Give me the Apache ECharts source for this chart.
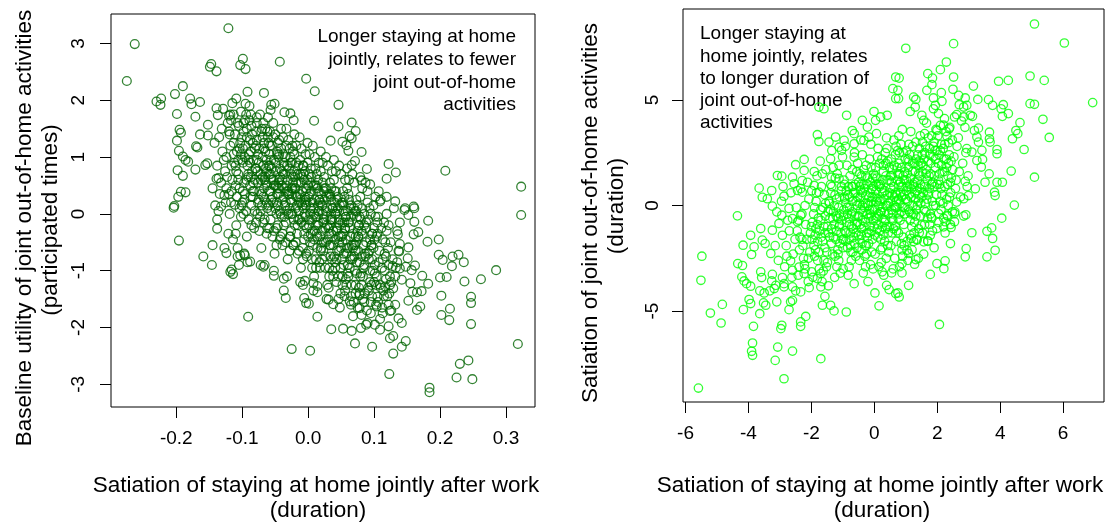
<!DOCTYPE html>
<html>
<head>
<meta charset="utf-8">
<script src="https://cdn.jsdelivr.net/npm/echarts@6/dist/echarts.min.js"></script>
<style>
  html, body { margin: 0; padding: 0; background: #fff; }
  #chart { width: 1113px; height: 525px; }
</style>
</head>
<body>
<div id="chart"></div>
<script>
// Left panel: satiation of staying home (duration) vs baseline utility of joint out-of-home activities
const homeVsFrequency = [
  // outer points
  [-0.121,3.27],[-0.263,2.99],[-0.275,2.34],[-0.147,2.64],[-0.149,2.59],[-0.139,2.51],[-0.099,2.73],[-0.103,2.62],[-0.095,2.55],[-0.043,2.68],[-0.003,2.38],[0.010,2.16],[-0.190,2.25],[-0.202,2.11],[-0.230,1.98],[-0.223,2.03],[-0.224,1.92],[-0.179,2.03],[-0.177,1.93],[-0.164,1.97],[-0.199,1.76],[-0.171,1.71],[-0.109,2.03],[-0.095,1.94],[-0.092,2.15],[-0.067,2.13],[-0.139,1.86],[-0.137,1.74],[-0.120,1.73],[-0.056,1.92],[-0.051,1.94],[-0.057,1.83],[-0.036,1.79],[-0.027,1.77],[-0.022,1.65],[0.009,1.64],[-0.195,1.48],[-0.193,1.43],[-0.199,1.29],[-0.196,1.11],[-0.190,1.01],[-0.182,0.92],[-0.186,0.95],[-0.198,0.77],[-0.190,0.67],[-0.193,0.39],[-0.186,0.38],[-0.197,0.30],[-0.203,0.14],[-0.170,1.19],[-0.168,1.17],[-0.171,0.78],[-0.164,1.40],[-0.152,1.38],[-0.152,1.57],[-0.153,0.89],[-0.156,0.86],[-0.139,0.62],[-0.136,0.63],[-0.127,0.33],[-0.132,0.13],[-0.111,0.16],
  [-0.204,0.11],[-0.196,-0.47],[-0.138,-0.26],[-0.145,-0.55],[-0.159,-0.75],[-0.146,-0.90],[-0.124,-0.69],[-0.118,-1.02],[-0.114,-1.06],[-0.116,-0.98],[-0.105,-0.90],[-0.107,-0.75],[-0.103,-0.73],[-0.096,-0.73],[-0.091,-1.81],[-0.025,-2.38],[0.003,-2.41],[-0.088,-0.84],[-0.068,-0.93],[-0.066,-0.90],[-0.052,-1.09],[-0.037,-1.14],[-0.037,-1.35],[-0.034,-1.48],[-0.005,-1.18],[-0.008,-1.25],[-0.006,-1.48],[-0.003,-1.57],[0.001,-1.58],[0.008,-1.22],[0.014,-1.27],[0.014,-1.38],[0.014,-1.81],
  [0.046,1.92],[0.046,1.54],[0.066,1.61],[0.072,1.46],[0.063,1.37],[0.066,1.33],[0.034,1.29],[0.052,1.27],[0.058,1.21],[0.061,1.11],[0.081,1.09],[0.071,0.93],[0.066,0.86],[0.089,0.79],[0.122,0.88],[0.133,0.73],[0.119,0.62],[0.094,0.52],[0.081,0.59],[0.208,0.76],[0.323,0.48],[0.160,0.13],[0.147,0.10],[0.132,0.22],[0.119,0.30],[0.109,0.22],
  [0.323,-0.02],[0.182,-0.12],[0.161,0.10],[0.146,0.07],[0.152,-0.02],[0.161,-0.14],[0.136,-0.36],[0.160,-0.36],[0.167,-0.32],[0.181,-0.49],[0.198,-0.45],[0.139,-0.53],[0.152,-0.59],[0.138,-0.66],[0.151,-0.78],[0.128,-0.92],[0.162,-0.91],[0.173,-1.09],[0.182,-1.23],[0.198,-0.72],[0.204,-0.81],[0.219,-0.75],[0.228,-0.72],[0.236,-0.85],[0.218,-0.92],[0.200,-1.12],[0.210,-1.11],[0.237,-1.19],[0.262,-1.15],[0.285,-0.99],[0.202,-1.44],[0.247,-1.46],[0.247,-1.57],[0.215,-1.67],[0.202,-1.78],[0.214,-1.87],[0.247,-1.94],[0.318,-2.29],[0.129,-2.46],[0.142,-2.34],[0.148,-2.24],[0.124,-2.19],[0.129,-2.15],[0.097,-2.34],[0.071,-2.28],[0.123,-2.82],[0.184,-3.06],[0.184,-3.14],[0.225,-2.88],[0.230,-2.64],[0.243,-2.58],[0.249,-2.91],[0.137,-1.84],[0.142,-1.92],[0.122,-1.98],[0.109,-2.04],[0.101,-1.95],[0.090,-1.92],[0.080,-2.01],[0.066,-2.06],[0.053,-2.02],[0.035,-2.03],[0.081,-1.78],[0.078,-1.66],[0.104,-1.63],[0.122,-1.60],[0.132,-1.60],[0.124,-1.71],[0.152,-1.53],[0.165,-1.69],[0.170,-1.63],[0.172,-1.36],[0.158,-1.37],[0.165,-1.38],[0.038,-1.59],[0.031,-1.51],[0.046,-1.50],[0.063,-1.54],[0.078,-1.43],[0.105,-1.46],[0.117,-1.28],[0.129,-1.31],[0.142,-1.16],[0.155,-1.22],[0.139,-0.96],[0.148,-0.93],[0.157,-0.99],[0.124,-1.10],[0.109,-1.25],[0.096,-1.25],
  // central cloud
  [-0.135,1.35],[-0.128,0.95],[-0.132,0.55],[-0.125,0.2],[-0.138,-0.1],[-0.122,1.6],[-0.13,1.1],[-0.126,0.75],[-0.134,0.35],[-0.121,-0.35],[-0.129,1.85],[-0.136,0.05],[-0.124,0.45],[-0.131,1.5],[-0.127,-0.6],
  [-0.118,1.2],[-0.112,0.9],[-0.105,1.55],[-0.115,0.6],[-0.108,0.3],[-0.119,0.0],[-0.102,1.8],[-0.111,1.4],[-0.116,0.85],[-0.104,0.45],[-0.109,-0.2],[-0.113,1.05],[-0.101,0.15],[-0.117,1.65],[-0.106,0.7],[-0.114,-0.45],[-0.103,1.25],[-0.11,0.5],[-0.107,-0.6],[-0.12,0.35],[-0.1,0.95],[-0.115,1.95],[-0.108,1.1],[-0.102,-0.05],
  [-0.098,1.6],[-0.095,1.2],[-0.092,0.85],[-0.088,0.5],[-0.085,1.4],[-0.097,0.25],[-0.09,-0.1],[-0.083,0.95],[-0.094,1.75],[-0.087,0.65],[-0.099,0.4],[-0.081,1.15],[-0.093,-0.4],[-0.086,0.15],[-0.096,1.0],[-0.089,1.9],[-0.084,0.3],[-0.091,0.7],[-0.082,-0.25],[-0.097,-0.7],[-0.088,1.3],[-0.094,0.05],[-0.08,0.8],[-0.086,1.55],[-0.092,-0.85],[-0.099,0.9],[-0.083,0.55],[-0.09,1.05],
  [-0.078,1.3],[-0.075,0.9],[-0.072,0.6],[-0.068,0.3],[-0.065,1.1],[-0.077,0.0],[-0.07,1.5],[-0.063,0.75],[-0.074,-0.3],[-0.067,0.45],[-0.079,0.8],[-0.061,1.35],[-0.073,1.75],[-0.066,-0.1],[-0.076,0.2],[-0.069,1.0],[-0.062,0.1],[-0.071,-0.6],[-0.064,0.55],[-0.078,1.6],[-0.06,0.85],[-0.074,0.4],[-0.067,1.25],[-0.072,-0.9],[-0.063,-0.35],[-0.079,-0.15],[-0.065,0.65],[-0.07,0.15],[-0.061,1.7],[-0.076,1.05],
  [-0.058,1.2],[-0.055,0.8],[-0.052,0.5],[-0.048,0.2],[-0.045,1.0],[-0.057,-0.1],[-0.05,1.4],[-0.043,0.65],[-0.054,-0.4],[-0.047,0.35],[-0.059,0.7],[-0.041,1.15],[-0.053,1.6],[-0.046,-0.2],[-0.056,0.05],[-0.049,0.9],[-0.042,0.0],[-0.051,-0.7],[-0.044,0.45],[-0.058,1.45],[-0.04,0.75],[-0.054,0.3],[-0.047,1.1],[-0.052,-1.0],[-0.043,-0.45],[-0.059,-0.25],[-0.045,0.55],[-0.05,0.1],[-0.041,1.5],[-0.056,0.95],[-0.048,-0.55],[-0.053,0.6],[-0.044,1.3],[-0.057,0.4],
  [-0.038,1.05],[-0.035,0.7],[-0.032,0.4],[-0.028,0.1],[-0.025,0.9],[-0.037,-0.2],[-0.03,1.3],[-0.023,0.55],[-0.034,-0.5],[-0.027,0.25],[-0.039,0.6],[-0.021,1.05],[-0.033,1.5],[-0.026,-0.3],[-0.036,-0.05],[-0.029,0.8],[-0.022,-0.1],[-0.031,-0.8],[-0.024,0.35],[-0.038,1.35],[-0.02,0.65],[-0.034,0.2],[-0.027,1.0],[-0.032,-1.1],[-0.023,-0.55],[-0.039,-0.35],[-0.025,0.45],[-0.03,0.0],[-0.021,1.4],[-0.036,0.85],[-0.028,-0.65],[-0.033,0.5],[-0.024,1.2],[-0.037,0.3],[-0.026,0.7],
  [-0.018,0.9],[-0.015,0.55],[-0.012,0.25],[-0.008,-0.05],[-0.005,0.75],[-0.017,-0.35],[-0.01,1.15],[-0.003,0.4],[-0.014,-0.65],[-0.007,0.1],[-0.019,0.45],[-0.001,0.9],[-0.013,1.35],[-0.006,-0.45],[-0.016,-0.2],[-0.009,0.65],[-0.002,-0.25],[-0.011,-0.95],[-0.004,0.2],[-0.018,1.2],[0.0,0.5],[-0.014,0.05],[-0.007,0.85],[-0.012,-1.2],[-0.003,-0.7],[-0.019,-0.5],[-0.005,0.3],[-0.01,-0.15],[-0.001,1.25],[-0.016,0.7],[-0.008,-0.8],[-0.013,0.35],[-0.004,1.05],[-0.017,0.15],[-0.006,0.6],
  [0.002,0.7],[0.005,0.4],[0.008,0.1],[0.012,-0.2],[0.015,0.6],[0.003,-0.5],[0.01,1.0],[0.017,0.25],[0.006,-0.8],[0.013,-0.05],[0.001,0.3],[0.019,0.75],[0.007,1.2],[0.014,-0.6],[0.004,-0.35],[0.011,0.5],[0.018,-0.4],[0.009,-1.1],[0.016,0.05],[0.002,1.05],[0.02,0.35],[0.006,-0.1],[0.013,0.7],[0.008,-1.35],[0.017,-0.85],[0.001,-0.65],[0.015,0.15],[0.01,-0.3],[0.019,1.1],[0.004,0.55],[0.012,-0.95],[0.007,0.2],[0.016,0.9],[0.003,0.0],[0.014,0.45],
  [0.022,0.55],[0.025,0.25],[0.028,-0.05],[0.032,-0.35],[0.035,0.45],[0.023,-0.65],[0.03,0.85],[0.037,0.1],[0.026,-0.95],[0.033,-0.2],[0.021,0.15],[0.039,0.6],[0.027,1.0],[0.034,-0.75],[0.024,-0.5],[0.031,0.35],[0.038,-0.55],[0.029,-1.25],[0.036,-0.1],[0.022,0.9],[0.04,0.2],[0.026,-0.25],[0.033,0.55],[0.028,-1.5],[0.037,-1.0],[0.021,-0.8],[0.035,0.0],[0.03,-0.45],[0.039,0.95],[0.024,0.4],[0.032,-1.1],[0.027,0.05],[0.036,0.75],[0.023,-0.15],[0.034,0.3],
  [0.042,0.4],[0.045,0.1],[0.048,-0.2],[0.052,-0.5],[0.055,0.3],[0.043,-0.8],[0.05,0.7],[0.057,-0.05],[0.046,-1.1],[0.053,-0.35],[0.041,0.0],[0.059,0.45],[0.047,0.85],[0.054,-0.9],[0.044,-0.65],[0.051,0.2],[0.058,-0.7],[0.049,-1.4],[0.056,-0.25],[0.042,0.75],[0.06,0.05],[0.046,-0.4],[0.053,0.4],[0.048,-1.65],[0.057,-1.15],[0.041,-0.95],[0.055,-0.15],[0.05,-0.6],[0.059,0.8],[0.044,0.25],[0.052,-1.25],[0.047,-0.1],[0.056,0.6],[0.043,-0.3],[0.054,0.15],
  [0.062,0.25],[0.065,-0.05],[0.068,-0.35],[0.072,-0.65],[0.075,0.15],[0.063,-0.95],[0.07,0.55],[0.077,-0.2],[0.066,-1.25],[0.073,-0.5],[0.061,-0.15],[0.079,0.3],[0.067,0.7],[0.074,-1.05],[0.064,-0.8],[0.071,0.05],[0.078,-0.85],[0.069,-1.55],[0.076,-0.4],[0.062,0.6],[0.08,-0.1],[0.066,-0.55],[0.073,0.25],[0.068,-1.8],[0.077,-1.3],[0.061,-1.1],[0.075,-0.3],[0.07,-0.75],[0.079,0.65],[0.064,0.1],[0.072,-1.4],
  [0.082,0.1],[0.085,-0.2],[0.088,-0.5],[0.092,-0.8],[0.095,0.0],[0.083,-1.1],[0.09,0.4],[0.097,-0.35],[0.086,-1.4],[0.093,-0.65],[0.081,-0.3],[0.099,0.15],[0.087,0.55],[0.094,-1.2],[0.084,-0.95],[0.091,-0.1],[0.098,-1.0],[0.089,-1.7],[0.096,-0.55],[0.082,0.45],[0.1,-0.25],[0.086,-0.7],[0.093,0.1],[0.088,-1.95],[0.097,-1.45],[0.081,-1.25],
  [0.102,-0.05],[0.105,-0.35],[0.108,-0.65],[0.112,-0.95],[0.115,-0.15],[0.103,-1.25],[0.11,0.25],[0.117,-0.5],[0.106,-1.55],[0.113,-0.8],[0.101,-0.45],[0.119,0.0],[0.107,0.4],[0.114,-1.35],[0.104,-1.1],[0.111,-0.25],[0.118,-1.15],[0.109,-1.85],[0.116,-0.7],[0.102,0.3],
  [0.122,-0.2],[0.125,-0.5],[0.128,-0.8],[0.132,-1.1],[0.135,-0.3],[0.123,-1.4],[0.13,0.1],[0.137,-0.65],[0.126,-1.7],[0.133,-0.95],[0.121,-0.6],[0.139,-0.15],
  // densest band along the trend
  [-0.109,0.75],[-0.104,1.15],[-0.097,0.55],[-0.093,1.35],[-0.1,0.2],[-0.106,0.95],[-0.091,0.65],[-0.098,1.45],
  [-0.088,0.9],[-0.084,0.4],[-0.079,1.2],[-0.075,0.25],[-0.072,0.7],[-0.087,1.1],[-0.081,0.05],[-0.076,0.55],[-0.071,1.45],[-0.085,0.75],[-0.078,0.95],[-0.073,-0.05],
  [-0.069,0.65],[-0.066,0.25],[-0.063,0.95],[-0.059,0.4],[-0.055,1.2],[-0.068,-0.15],[-0.064,0.8],[-0.06,0.15],[-0.056,0.6],[-0.052,0.95],[-0.067,1.15],[-0.062,-0.25],[-0.058,0.85],[-0.053,0.2],[-0.051,0.5],
  [-0.049,0.5],[-0.046,0.15],[-0.043,0.8],[-0.039,0.25],[-0.035,1.0],[-0.048,-0.25],[-0.044,0.6],[-0.04,-0.05],[-0.036,0.45],[-0.032,0.85],[-0.047,1.05],[-0.042,-0.4],[-0.038,0.7],[-0.033,0.05],[-0.031,0.35],[-0.045,0.35],
  [-0.029,0.35],[-0.026,0.0],[-0.023,0.65],[-0.019,0.1],[-0.015,0.85],[-0.028,-0.4],[-0.024,0.45],[-0.02,-0.2],[-0.016,0.3],[-0.012,0.7],[-0.027,0.9],[-0.022,-0.55],[-0.018,0.55],[-0.013,-0.1],[-0.011,0.2],[-0.025,0.2],
  [-0.009,0.15],[-0.006,-0.2],[-0.003,0.45],[0.001,-0.1],[0.005,0.65],[-0.008,-0.6],[-0.004,0.25],[0.0,-0.4],[0.004,0.1],[0.008,0.5],[-0.007,0.7],[-0.002,-0.75],[0.002,0.35],[0.007,-0.3],[0.009,0.0],[-0.005,0.0],
  [0.011,-0.05],[0.014,-0.4],[0.017,0.25],[0.021,-0.3],[0.025,0.45],[0.012,-0.8],[0.016,0.05],[0.02,-0.6],[0.024,-0.1],[0.028,0.3],[0.013,0.5],[0.018,-0.95],[0.022,0.15],[0.027,-0.5],[0.029,-0.2],[0.015,-0.2],
  [0.031,-0.25],[0.034,-0.55],[0.037,0.1],[0.041,-0.45],[0.045,0.3],[0.032,-0.95],[0.036,-0.1],[0.04,-0.75],[0.044,-0.25],[0.048,0.15],[0.033,0.35],[0.038,-1.1],[0.042,0.0],[0.047,-0.65],[0.049,-0.4],[0.035,-0.35],
  [0.051,-0.4],[0.054,-0.7],[0.057,-0.05],[0.061,-0.6],[0.065,0.15],[0.052,-1.1],[0.056,-0.25],[0.06,-0.9],[0.064,-0.4],[0.068,0.0],[0.053,0.2],[0.058,-1.25],[0.062,-0.15],[0.067,-0.8],[0.069,-0.55],
  [0.071,-0.55],[0.074,-0.85],[0.077,-0.2],[0.081,-0.75],[0.085,0.0],[0.072,-1.25],[0.076,-0.4],[0.08,-1.05],[0.084,-0.55],[0.088,-0.15],[0.073,0.05],[0.078,-1.4],
  [0.091,-0.7],[0.094,-1.0],[0.097,-0.35],[0.101,-0.9],[0.105,-0.15],[0.092,-1.35],[0.096,-0.55],[0.1,-1.2],
  [-0.142,1.25],[-0.138,0.85],[-0.12,1.45],[-0.113,1.75],[-0.096,1.65],[-0.087,1.75],[-0.079,1.45],[-0.068,1.6],[-0.062,1.45],[-0.145,0.45],[-0.141,0.15],[-0.117,0.2],[-0.11,-0.35],
  [0.055,-1.45],[0.065,-1.6],[0.075,-1.65],[0.085,-1.55],[0.095,-1.75],[0.103,-1.6],[0.113,-1.75],[0.12,-1.45],[0.126,-1.2],[0.135,-0.85],[0.115,-1.45],
  [-0.124,1.0],[-0.119,1.4],[-0.116,0.4],[-0.113,1.25],[-0.11,0.85],[-0.107,1.6],[-0.104,0.1],[-0.101,1.35],[-0.123,0.65],[-0.118,1.75],[-0.106,0.6],[-0.102,1.05],
  [-0.099,1.15],[-0.096,0.35],[-0.093,1.5],[-0.09,0.95],[-0.087,0.3],[-0.084,1.25],[-0.081,0.6],[-0.078,1.7],[-0.094,0.6],[-0.089,1.65],[-0.082,0.4],[-0.077,0.75],[-0.098,0.0],[-0.086,-0.2],
  [-0.074,1.15],[-0.071,0.35],[-0.068,0.85],[-0.065,1.5],[-0.062,0.5],[-0.059,1.05],[-0.056,0.25],[-0.053,1.35],[-0.072,0.05],[-0.069,1.35],[-0.063,0.2],[-0.057,0.7],[-0.052,-0.3],[-0.066,0.6],[-0.06,1.25],
  [-0.049,0.75],[-0.046,1.25],[-0.043,0.05],[-0.04,0.5],[-0.037,0.9],[-0.034,-0.15],[-0.031,0.6],[-0.028,1.15],[-0.048,0.0],[-0.044,1.05],[-0.039,-0.55],[-0.035,0.15],[-0.03,0.4],[-0.027,-0.4],[-0.046,0.45],[-0.033,1.2],
  [-0.024,0.0],[-0.021,0.75],[-0.018,0.3],[-0.015,-0.1],[-0.012,0.95],[-0.009,0.4],[-0.006,-0.35],[-0.003,0.15],[-0.023,1.1],[-0.02,0.45],[-0.016,-0.7],[-0.011,0.55],[-0.008,0.85],[-0.004,-0.05],[-0.001,0.6],[-0.014,0.2],
  [0.001,-0.2],[0.004,0.8],[0.007,-0.55],[0.01,0.25],[0.013,-0.35],[0.016,0.4],[0.019,-0.65],[0.022,0.0],[0.003,0.2],[0.006,-0.95],[0.011,0.8],[0.015,-0.15],[0.018,0.2],[0.021,-0.5],[0.024,0.65],[0.009,-0.45],
  [0.026,-0.75],[0.029,0.1],[0.032,-0.55],[0.035,0.25],[0.038,-0.3],[0.041,-0.85],[0.044,0.05],[0.047,-0.5],[0.027,0.45],[0.031,-1.3],[0.036,-0.8],[0.04,0.4],[0.043,-1.2],[0.046,-0.15],[0.049,-0.95],[0.034,-0.1],
  [0.051,-0.8],[0.054,0.05],[0.057,-0.45],[0.06,-1.05],[0.063,-0.25],[0.066,-0.75],[0.069,0.1],[0.072,-0.4],[0.052,-0.15],[0.056,-1.35],[0.061,0.35],[0.065,-1.45],[0.068,-0.6],[0.071,-1.0],[0.074,-0.05],[0.059,-0.6],
  [0.076,-0.65],[0.079,-1.1],[0.082,-0.35],[0.085,-0.9],[0.088,-0.25],[0.091,-1.3],[0.094,-0.45],[0.097,-0.8],[0.078,-0.05],[0.083,-1.5],[0.087,-0.75],[0.09,0.2],[0.095,-1.55],[0.099,-0.6],
  [0.101,-1.05],[0.104,-0.4],[0.107,-0.85],[0.11,-1.3],[0.113,-0.45],[0.116,-1.0],[0.119,-0.3],[0.122,-0.9],[0.106,-0.05],[0.112,-1.65],[0.118,-0.75],[0.124,-1.25]
];

// Right panel: satiation of staying home (duration) vs satiation of joint out-of-home activities (duration)
const homeVsDuration = [
  // outer points
  [5.09,8.59],[6.04,7.69],[1.00,7.44],[2.52,7.66],[6.94,4.87],[2.29,6.79],[2.10,6.43],[1.70,6.24],[1.85,6.03],[1.83,5.72],[1.67,5.45],[0.79,6.03],[0.75,5.45],[0.77,5.06],[2.52,6.08],[2.50,5.50],[2.13,5.34],[2.15,4.93],[1.88,5.09],[1.94,4.74],[3.15,5.65],[2.68,5.21],[2.89,5.09],[3.29,5.02],[2.70,4.77],[2.84,4.66],[2.94,4.74],[3.05,4.27],[3.12,4.22],[3.95,5.88],[4.26,5.92],[4.95,6.13],[5.40,5.92],[3.63,5.01],[3.76,4.74],[4.10,4.77],[4.03,4.58],[4.26,4.35],[4.07,4.22],[4.95,4.82],[5.09,4.79],[5.36,4.08],[5.56,3.22],[4.63,3.92],[4.50,3.55],[4.56,3.40],[4.39,3.16],[4.76,2.65],[4.35,1.63],[5.09,1.34],[4.45,0.02],[1.25,5.13],[1.32,5.02],[1.14,4.45],[1.30,4.66],[1.51,4.27],[1.57,4.03],[1.88,4.58],[2.04,4.35],[2.23,4.11],[2.55,4.19],[2.62,4.30],[2.84,4.19],[2.10,3.79],[2.31,3.28],[2.36,2.97],[1.99,3.55],[2.38,3.63],[3.18,3.55],[3.31,3.66],[3.26,3.24],[3.66,3.47],[3.66,3.16],[3.68,3.00],[3.90,2.65],[3.90,2.45],[3.31,3.00],[2.94,2.69],[3.10,2.53],[3.42,2.61],[3.44,2.18],[3.26,2.13],[3.40,1.82],[3.65,1.50],[3.52,1.10],[3.82,0.63],[3.84,0.47],[3.21,0.79],[2.89,1.14],[3.90,1.10],[4.07,1.10],[2.99,0.47],[2.84,0.32],[2.62,0.16],
  [4.05,-0.60],[3.73,-1.06],[3.58,-1.22],[3.76,-1.56],[3.10,-1.29],[2.91,-0.44],[2.42,-1.80],[2.92,-2.04],[2.89,-2.43],[3.58,-2.43],[3.84,-2.12],[2.07,-5.63],[1.99,-2.75],[2.25,-2.62],[2.21,-2.99],[1.78,-3.26],[1.09,-3.78],[0.79,-4.33],[0.75,-4.14],[0.88,-3.19],[1.28,-2.78],[1.32,-2.56],[1.09,-2.27],[0.88,-2.75],[0.86,-1.80],[1.04,-2.12],[2.04,-0.38],[2.31,-0.46],[2.55,-0.38],[2.44,-1.04],[2.20,-1.01],[1.99,-1.09],[1.78,-1.41],[1.70,-1.67],[1.57,-1.72],[1.36,-1.64],[1.17,-1.56],[1.43,-1.29],[1.49,-0.93],[1.81,-0.54],[2.25,-0.77],[2.55,-0.77],
  [-5.59,-8.64],[-5.48,-2.40],[-5.51,-3.54],[-5.21,-5.09],[-4.83,-4.68],[-4.87,-5.56],[-4.35,-0.49],[-4.17,-1.88],[-3.90,-2.32],[-4.34,-2.75],[-4.19,-2.84],[-4.21,-3.38],[-4.14,-3.57],[-4.06,-3.70],[-3.93,-3.82],[-3.98,-4.45],[-3.93,-4.64],[-4.16,-4.93],[-3.64,-5.12],[-3.84,-5.72],[-3.87,-6.51],[-3.90,-6.90],[-3.87,-7.09],[-3.15,-7.33],[-2.87,-8.20],[-3.07,-6.70],[-2.60,-6.89],[-1.70,-7.25],[-2.94,-5.67],[-2.97,-5.83],[-2.34,-5.51],[-2.34,-5.72],[-2.18,-5.25],[-3.52,-4.61],[-3.45,-4.72],[-3.10,-4.56],[-2.71,-4.93],[-2.66,-4.56],[-2.60,-4.49],[-1.65,-4.72],[-1.39,-4.72],[-1.28,-4.99],[-0.89,-5.04],[-1.57,-4.30],[-1.70,-3.85],[0.15,-4.75],[0.02,-4.14],[0.39,-3.78],[0.47,-3.98],[0.25,-3.14],[0.55,-3.19],[0.68,-4.17],[-3.50,-4.14],[-3.64,-4.04],[-3.18,-3.93],[-3.32,-4.04],[-2.87,-3.85],[-2.60,-3.85],[-2.50,-4.04],[-2.34,-4.09],[-2.07,-3.89],[-3.24,-1.17],[-3.03,-0.85],[-2.92,-1.41],[-3.61,-1.09],[-3.93,-1.41],[-3.56,-1.64],[-3.47,-1.80],[-3.29,-2.27],[-3.82,-1.96],[-3.61,-3.14],[-3.58,-3.41],[-3.26,-3.57],[-3.13,-3.78],[-3.24,-3.26],[-2.92,-3.41],[-2.87,-3.70],[-2.60,-3.07],[-2.66,-2.62],[-2.39,-2.91],[-2.23,-3.22],[-1.99,-3.14],[-1.81,-3.46],[-1.70,-3.22],[-3.24,-0.03],[-2.94,-0.46],[-2.71,-0.14],[-2.60,-0.62],[-2.44,-0.77],[-2.34,-0.46],
  [0.68,6.08],[0.59,5.53],[0.68,5.06],[-1.76,4.66],[-1.60,4.58],[-0.88,4.27],[-0.01,4.45],[-0.38,4.03],[-0.70,3.55],[-0.64,3.40],[-0.22,3.71],[0.04,4.03],[0.20,4.19],[0.41,4.27],[-1.81,3.35],[-1.76,3.03],[-1.44,3.00],[-1.23,3.24],[-1.12,2.76],[-0.96,3.08],[-1.04,2.61],[-1.39,2.21],[-1.12,1.90],[-0.64,2.92],[-0.64,2.29],[-0.33,3.08],[-0.17,3.24],[-2.23,2.18],[-2.50,1.93],[-2.23,1.66],[-1.91,1.61],[-3.08,1.42],[-2.94,1.39],[-3.66,0.82],[-3.26,0.71],[-3.56,0.39],[-3.40,0.32],[-2.87,0.44],[-2.55,1.03],[-2.60,1.34],[-2.29,1.18],[-1.65,1.50],[-1.36,1.34],[-1.12,1.27],[-1.91,0.95],[-1.76,0.63],[-2.29,0.63],[-2.44,0.71],
  [-3.1,-0.3],[-2.95,0.2],[-2.8,-1.9],[-2.7,-1.2],[-2.65,0.6],[-2.58,-2.3],[-3.05,-2.6],[-2.85,-2.9],[-2.75,-0.7],[-2.52,-1.6],[-3.15,-1.9],[-2.9,0.9],[-2.62,-3.4],[-2.78,-2.4],
  // central cloud
  [-2.45,-1.2],[-2.38,-2.1],[-2.3,-0.4],[-2.22,-2.8],[-2.15,-1.6],[-2.08,0.3],[-2.42,-3.3],[-2.34,0.8],[-2.27,-1.9],[-2.18,-0.9],[-2.1,-3.6],[-2.03,-1.3],[-2.48,-0.1],[-2.25,-2.5],[-2.12,1.1],[-2.36,-1.5],[-2.05,-2.2],[-2.2,-3.0],
  [-1.97,-0.8],[-1.92,-1.9],[-1.85,0.2],[-1.8,-2.6],[-1.74,-1.2],[-1.68,0.9],[-1.62,-3.1],[-1.56,-0.5],[-1.95,-3.4],[-1.88,-1.4],[-1.82,1.4],[-1.76,-2.2],[-1.7,-0.2],[-1.64,-1.7],[-1.58,0.5],[-1.52,-2.9],[-1.99,0.7],[-1.9,-2.4],[-1.78,-0.6],[-1.66,-3.6],[-1.6,-1.0],[-1.54,1.7],[-1.86,-1.1],[-1.72,2.1],[-1.57,-2.0],
  [-1.47,-0.3],[-1.42,-1.5],[-1.38,0.6],[-1.33,-2.3],[-1.28,-0.9],[-1.24,1.3],[-1.19,-2.9],[-1.14,-0.1],[-1.09,-1.8],[-1.04,0.9],[-1.49,-2.7],[-1.44,0.2],[-1.36,-1.1],[-1.31,1.8],[-1.26,-3.4],[-1.21,-0.5],[-1.16,-2.1],[-1.11,0.4],[-1.06,-1.3],[-1.01,2.3],[-1.46,-3.8],[-1.39,1.0],[-1.3,-0.3],[-1.22,-1.6],[-1.13,-2.6],[-1.03,-0.7],[-1.41,-0.6],[-1.27,0.0],[-1.18,1.5],[-1.08,-3.2],[-1.35,2.6],[-1.12,-1.0],
  [-0.97,-0.2],[-0.93,-1.2],[-0.89,0.7],[-0.85,-2.0],[-0.81,-0.6],[-0.77,1.4],[-0.73,-2.6],[-0.69,0.2],[-0.65,-1.5],[-0.61,1.0],[-0.57,-0.9],[-0.53,2.0],[-0.99,-3.0],[-0.95,0.4],[-0.91,-1.7],[-0.87,1.9],[-0.83,-3.3],[-0.79,-0.1],[-0.75,-1.9],[-0.71,0.9],[-0.67,-1.1],[-0.63,2.5],[-0.59,-2.4],[-0.55,0.0],[-0.51,-1.4],[-0.96,1.2],[-0.88,-0.8],[-0.8,-2.9],[-0.72,-0.4],[-0.64,-3.7],[-0.56,1.6],[-0.52,-0.5],[-0.92,2.8],[-0.84,0.5],[-0.76,-1.3],[-0.68,-2.2],[-0.6,0.6],[-0.98,-1.6],
  [-0.48,0.1],[-0.45,-0.9],[-0.42,1.0],[-0.39,-1.8],[-0.36,-0.3],[-0.33,1.7],[-0.3,-2.4],[-0.27,0.5],[-0.24,-1.3],[-0.21,1.3],[-0.18,-0.6],[-0.15,2.2],[-0.12,-2.8],[-0.09,0.2],[-0.06,-1.6],[-0.03,0.9],[-0.47,-2.6],[-0.44,0.7],[-0.41,-1.4],[-0.38,2.4],[-0.35,-3.2],[-0.32,-0.1],[-0.29,-1.9],[-0.26,1.9],[-0.23,-0.4],[-0.2,-3.6],[-0.17,0.4],[-0.14,-1.0],[-0.11,2.9],[-0.08,-2.2],[-0.05,-0.2],[-0.02,1.5],[-0.46,1.5],[-0.37,-0.7],[-0.28,-2.9],[-0.19,0.0],[-0.1,-1.2],[-0.04,-3.0],[-0.43,3.1],[-0.31,0.8],[-0.22,-1.5],[-0.13,1.1],
  [0.02,0.4],[0.05,-0.6],[0.08,1.3],[0.11,-1.5],[0.14,0.0],[0.17,2.0],[0.2,-2.1],[0.23,0.8],[0.26,-1.0],[0.29,1.6],[0.32,-0.3],[0.35,2.5],[0.38,-2.5],[0.41,0.5],[0.44,-1.3],[0.47,1.2],[0.03,-2.3],[0.06,1.0],[0.09,-1.1],[0.12,2.7],[0.15,-2.9],[0.18,0.2],[0.21,-1.6],[0.24,2.2],[0.27,-0.1],[0.3,-3.3],[0.33,0.7],[0.36,-0.7],[0.39,3.2],[0.42,-1.9],[0.45,0.1],[0.48,1.8],[0.04,1.8],[0.13,-0.4],[0.22,-2.7],[0.31,0.3],[0.4,-1.0],[0.46,-2.2],[0.07,3.4],[0.19,1.0],[0.28,-1.4],[0.37,1.4],
  [0.52,0.8],[0.55,-0.2],[0.58,1.7],[0.61,-1.1],[0.64,0.4],[0.67,2.4],[0.7,-1.7],[0.73,1.2],[0.76,-0.6],[0.79,2.0],[0.82,0.1],[0.85,2.9],[0.88,-2.1],[0.91,0.9],[0.94,-0.9],[0.97,1.6],[0.53,-1.9],[0.56,1.4],[0.59,-0.7],[0.62,3.1],[0.65,-2.5],[0.68,0.6],[0.71,-1.2],[0.74,2.6],[0.77,0.3],[0.8,-2.9],[0.83,1.1],[0.86,-0.3],[0.89,3.6],[0.92,-1.5],[0.95,0.5],[0.98,2.2],[0.54,2.2],[0.63,0.0],[0.72,-0.1],[0.81,1.5],[0.9,-2.4],[0.96,-0.4],[0.6,-3.0],[0.78,3.3],
  [1.02,1.2],[1.06,0.2],[1.1,2.1],[1.14,-0.7],[1.18,0.8],[1.22,2.8],[1.26,-1.3],[1.3,1.6],[1.34,-0.2],[1.38,2.4],[1.42,0.5],[1.46,3.3],[1.04,-1.7],[1.08,1.8],[1.12,-0.3],[1.16,3.5],[1.2,-2.1],[1.24,1.0],[1.28,-0.8],[1.32,3.0],[1.36,0.7],[1.4,-2.5],[1.44,1.4],[1.48,0.1],[1.03,2.6],[1.11,0.5],[1.19,-1.0],[1.27,2.0],[1.35,-1.6],[1.43,2.7],[1.07,-2.6],[1.15,1.3],[1.23,0.0],[1.31,0.3],[1.39,1.9],[1.47,-0.5],
  [1.52,1.6],[1.56,0.6],[1.6,2.5],[1.64,-0.3],[1.68,1.2],[1.72,3.2],[1.76,-0.9],[1.8,2.0],[1.84,0.2],[1.88,2.8],[1.92,0.9],[1.96,3.6],[1.54,-1.3],[1.58,2.2],[1.62,0.1],[1.66,3.9],[1.7,-1.7],[1.74,1.4],[1.78,-0.4],[1.82,3.3],[1.86,1.1],[1.9,-2.0],[1.94,1.8],[1.98,0.5],[1.53,3.0],[1.61,0.9],[1.69,-0.6],[1.77,2.4],[1.85,-1.2],[1.93,2.6],[1.57,-2.3],[1.65,1.7],
  [2.03,2.0],[2.08,1.0],[2.13,2.9],[2.18,0.1],[2.23,1.6],[2.28,3.5],[2.33,-0.5],[2.38,2.4],[2.43,0.6],[2.48,3.1],[2.05,-0.8],[2.1,2.6],[2.15,0.5],[2.2,3.8],[2.25,-1.3],[2.3,1.8],[2.35,0.0],[2.4,3.7],[2.45,1.3],[2.02,3.3],[2.12,-0.2],[2.22,2.2],[2.32,1.0],[2.42,-0.9],[2.07,1.5],
  [2.53,2.3],[2.6,1.2],[2.67,3.2],[2.74,0.4],[2.81,2.0],[2.88,3.7],[2.95,0.9],[2.56,-0.3],[2.63,2.8],[2.7,1.6],[2.77,4.0],[2.84,-0.5],[2.91,2.5],[2.98,1.4],[2.58,0.8],
  // densest band along the trend
  [-1.98,-1.6],[-1.93,-0.4],[-1.87,-2.1],[-1.81,-0.9],[-1.75,-3.0],[-1.69,-1.5],[-1.63,-0.1],[-1.57,-1.3],[-1.51,-2.2],[-1.84,0.6],
  [-1.48,-1.0],[-1.43,0.1],[-1.37,-1.8],[-1.32,-0.6],[-1.25,0.5],[-1.2,-1.2],[-1.15,-2.3],[-1.1,-0.4],[-1.05,0.7],[-1.02,-1.6],
  [-0.98,-0.5],[-0.94,0.3],[-0.9,-1.3],[-0.86,-0.1],[-0.82,0.9],[-0.78,-0.9],[-0.74,-2.2],[-0.7,-0.3],[-0.66,0.6],[-0.62,-1.8],[-0.58,0.2],[-0.54,-0.8],[-0.5,1.1],
  [-0.49,-0.5],[-0.45,0.4],[-0.41,-1.1],[-0.37,0.0],[-0.33,1.0],[-0.29,-0.8],[-0.25,-1.9],[-0.21,0.1],[-0.17,-1.3],[-0.13,0.6],[-0.09,-0.5],[-0.05,1.3],[-0.01,-1.0],[-0.47,0.9],[-0.39,-2.1],[-0.27,1.4],[-0.15,-0.2],[-0.07,0.4],
  [0.01,-0.2],[0.05,0.7],[0.09,-0.5],[0.13,1.0],[0.17,-1.2],[0.21,0.3],[0.25,-0.6],[0.29,1.9],[0.33,-1.7],[0.37,0.0],[0.41,1.2],[0.45,-0.4],[0.49,0.6],[0.03,1.4],[0.11,0.3],[0.19,-0.3],[0.27,0.6],[0.35,-1.1],[0.43,2.1],
  [0.51,0.2],[0.55,1.1],[0.59,-0.4],[0.63,1.9],[0.67,-1.0],[0.71,0.5],[0.75,1.5],[0.79,-0.4],[0.83,0.6],[0.87,1.8],[0.91,-0.1],[0.95,1.2],[0.99,0.3],[0.57,0.5],[0.69,2.8],[0.77,-1.3],[0.85,0.9],[0.93,2.5],
  [1.01,0.3],[1.05,1.5],[1.09,-0.2],[1.13,2.4],[1.17,0.4],[1.21,1.6],[1.25,-0.4],[1.29,1.1],[1.33,2.2],[1.37,0.0],[1.41,1.5],[1.45,0.8],[1.49,2.0],[1.13,-1.4],[1.29,0.6],[1.41,-1.1],[1.05,0.9],
  [1.51,0.4],[1.55,1.9],[1.59,1.0],[1.63,2.8],[1.67,0.3],[1.71,2.1],[1.75,0.8],[1.79,1.5],[1.83,-0.6],[1.87,2.3],[1.91,1.4],[1.95,0.0],[1.99,2.6],[1.6,-0.9],[1.72,0.5],
  [2.04,1.2],[2.09,0.2],[2.14,1.9],[2.19,2.7],[2.24,0.9],[2.29,2.2],[2.34,1.4],[2.39,0.4],[2.44,2.1],[2.49,1.7],
  [-1.45,-1.3],[-1.4,-0.2],[-1.3,-1.5],[-1.2,0.3],[-1.1,-0.9],[-1.0,-2.0],[-0.9,0.1],[-0.8,-1.6],[-1.35,0.9],[-1.25,-2.4],[-0.95,1.0],[-0.85,-0.4],[-1.15,-0.6],[-0.78,0.4],
  [-0.72,-1.0],[-0.68,0.9],[-0.63,-0.5],[-0.58,-1.3],[-0.53,0.4],[-0.48,-1.6],[-0.43,-0.2],[-0.38,0.6],[-0.33,-1.0],[-0.28,0.1],[-0.23,1.0],[-0.18,-1.8],[-0.13,-0.4],[-0.08,0.8],[-0.03,-0.7],[-0.7,1.7],[-0.55,-2.0],[-0.4,1.4],[-0.25,-2.3],[-0.1,1.8],
  [0.02,-1.4],[0.07,0.2],[0.12,-0.9],[0.17,0.9],[0.22,-0.3],[0.27,1.2],[0.32,-0.8],[0.37,2.0],[0.42,0.0],[0.47,-1.0],[0.52,1.4],[0.57,-1.3],[0.62,0.9],[0.67,-0.1],[0.72,1.8],[0.1,2.3],[0.25,-2.0],[0.4,2.7],[0.55,-0.6],[0.7,0.2],
  [0.77,1.0],[0.82,-0.7],[0.87,0.4],[0.92,1.4],[0.97,-0.1],[1.02,0.7],[1.07,2.2],[1.12,1.0],[1.17,-0.4],[1.22,2.0],[1.27,0.9],[1.32,-0.5],[1.37,1.2],[1.42,2.1],[1.47,1.0],[0.8,2.5],[0.95,-1.9],[1.1,2.9],[1.25,-1.7],[1.4,0.2],
  [1.52,2.4],[1.58,-0.2],[1.64,1.5],[1.7,0.6],[1.76,2.7],[1.82,1.0],[1.88,0.0],[1.94,2.2],[2.0,1.0],[2.06,2.4],[2.12,0.8],[2.18,1.6],[2.24,2.9],[2.3,0.3],[2.36,2.0],[2.42,1.1],[2.48,-0.3],[1.6,3.4],[1.9,3.0],[2.2,-0.6],
  [-2.4,-0.7],[-2.3,-1.6],[-2.2,0.0],[-2.1,-2.5],[-2.0,-1.0],[-1.9,-0.1],[-1.8,-1.7],[-1.7,-0.7],[-1.6,-2.6],[-1.55,0.1]
];

// Tick positions
const leftXTicks = [-0.2, -0.1, 0.0, 0.1, 0.2, 0.3];
const leftYTicks = [-3, -2, -1, 0, 1, 2, 3];
const rightXTicks = [-6, -4, -2, 0, 2, 4, 6];
const rightYTicks = [-5, 0, 5];

// Text
const xTitle = ['Satiation of staying at home jointly after work', '(duration)'];
const leftYTitle = ['Baseline utility of joint out-of-home activities', '(participated times)'];
const rightYTitle = ['Satiation of joint out-of-home activities', '(duration)'];
const leftNote = ['Longer staying at home', 'jointly, relates to fewer', 'joint out-of-home', 'activities'];
const rightNote = ['Longer staying at', 'home jointly, relates', 'to longer duration of', 'joint out-of-home', 'activities'];

const FONT = '"Liberation Sans", Arial, Helvetica, sans-serif';
const TICK_SIZE = 19;
const TITLE_SIZE = 22.5;

function valueAxis(gridIndex, min, max, ticks, fmt, isY, margin) {
  return {
    type: 'value',
    gridIndex: gridIndex,
    min: min,
    max: max,
    axisLine: { show: false, onZero: false },
    splitLine: { show: false },
    axisTick: {
      show: true, inside: false, length: 11, customValues: ticks,
      lineStyle: { color: '#000', width: 1 }
    },
    axisLabel: {
      show: true, customValues: ticks, formatter: fmt, margin: margin,
      rotate: isY ? 90 : 0,
      color: '#000', fontSize: TICK_SIZE, fontFamily: FONT
    }
  };
}

function textEl(str, x, y, align, size, rot) {
  return {
    type: 'text', x: x, y: y, rotation: rot || 0, silent: true,
    style: {
      text: str, fill: '#000', font: size + 'px ' + FONT,
      textAlign: align, textVerticalAlign: 'middle'
    }
  };
}

const graphics = [];
graphics.push(textEl(xTitle[0], 316, 486, 'center', TITLE_SIZE));
graphics.push(textEl(xTitle[1], 318, 511, 'center', TITLE_SIZE));
graphics.push(textEl(xTitle[0], 880, 486, 'center', TITLE_SIZE));
graphics.push(textEl(xTitle[1], 882, 511, 'center', TITLE_SIZE));
graphics.push(textEl(leftYTitle[0], 25, 228, 'center', TITLE_SIZE, Math.PI / 2));
graphics.push(textEl(leftYTitle[1], 51, 220, 'center', TITLE_SIZE, Math.PI / 2));
graphics.push(textEl(rightYTitle[0], 591, 213, 'center', TITLE_SIZE, Math.PI / 2));
graphics.push(textEl(rightYTitle[1], 617, 206, 'center', TITLE_SIZE, Math.PI / 2));
leftNote.forEach((s, i) => graphics.push(textEl(s, 516, 37 + i * 22.7, 'right', 19)));
rightNote.forEach((s, i) => graphics.push(textEl(s, 700, 34 + i * 22.3, 'left', 19)));

const chart = echarts.init(document.getElementById('chart'), null, { renderer: 'canvas' });
chart.setOption({
  backgroundColor: '#fff',
  animation: false,
  textStyle: { fontFamily: FONT },
  grid: [
    { left: 111, top: 14, width: 424, height: 393, show: true, borderColor: '#000', borderWidth: 1, backgroundColor: 'transparent' },
    { left: 683, top: 9, width: 421, height: 393, show: true, borderColor: '#000', borderWidth: 1, backgroundColor: 'transparent' }
  ],
  xAxis: [
    valueAxis(0, -0.299, 0.344, leftXTicks, v => v.toFixed(1), false, 22),
    valueAxis(1, -6.08, 7.3, rightXTicks, v => String(v), false, 22)
  ],
  yAxis: [
    valueAxis(0, -3.40, 3.52, leftYTicks, v => String(v), true, 23),
    valueAxis(1, -9.3, 9.3, rightYTicks, v => String(v), true, 21)
  ],
  series: [
    {
      type: 'scatter', xAxisIndex: 0, yAxisIndex: 0, data: homeVsFrequency,
      symbol: 'circle', symbolSize: 8.8, silent: true,
      itemStyle: { color: 'rgba(0,0,0,0)', borderColor: '#006400', borderWidth: 1.3 }
    },
    {
      type: 'scatter', xAxisIndex: 1, yAxisIndex: 1, data: homeVsDuration,
      symbol: 'circle', symbolSize: 8.4, silent: true,
      itemStyle: { color: 'rgba(0,0,0,0)', borderColor: '#00FF00', borderWidth: 1.3 }
    }
  ],
  graphic: graphics
});
</script>
</body>
</html>
